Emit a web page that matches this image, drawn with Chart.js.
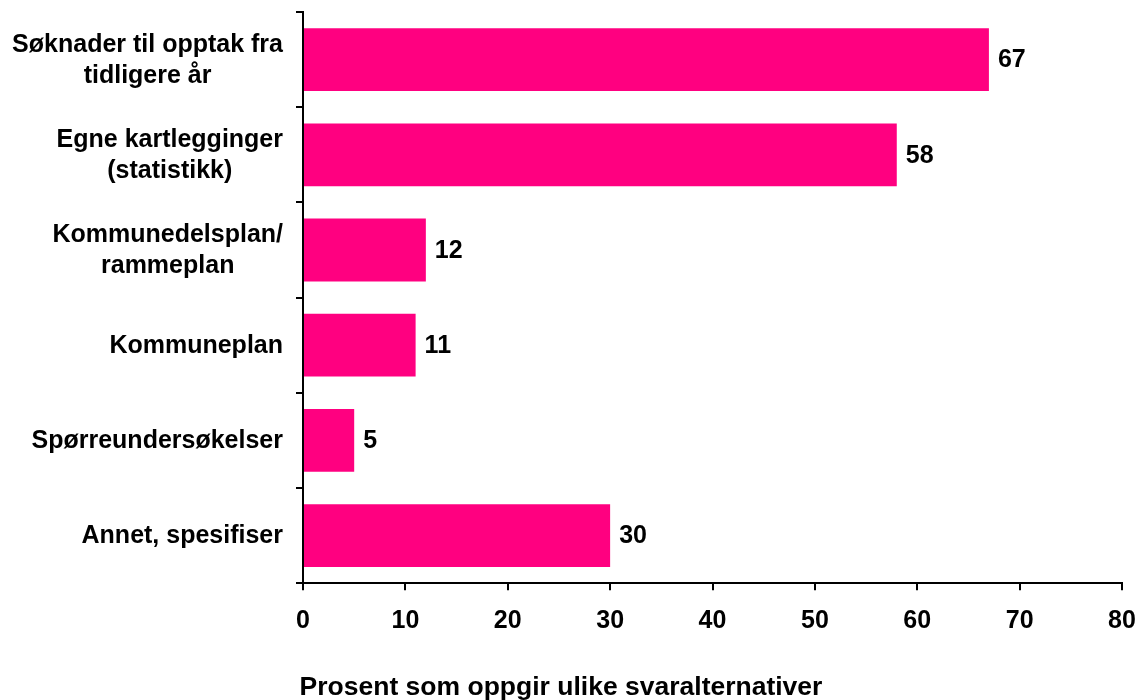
<!DOCTYPE html>
<html lang="no">
<head>
<meta charset="utf-8">
<title>Prosent som oppgir ulike svaralternativer</title>
<script src="https://cdn.jsdelivr.net/npm/chart.js@4.4.1/dist/chart.umd.min.js"></script>
<style>
  html, body { margin: 0; padding: 0; background: #fff; }
  #wrap { width: 1136px; height: 700px; }
</style>
</head>
<body>
<div id="wrap"><canvas id="grafikk" width="1136" height="700"></canvas></div>
<script>
// Kategorier (flere linjer der originalen bryter teksten)
const kategorier = [
  ['Søknader til opptak fra', 'tidligere år'],
  ['Egne kartlegginger', '(statistikk)'],
  ['Kommunedelsplan/', 'rammeplan'],
  ['Kommuneplan'],
  ['Spørreundersøkelser'],
  ['Annet, spesifiser']
];

// Prosentverdier
const verdier = [67, 58, 12, 11, 5, 30];

// Akseverdier
const xTicks = [0, 10, 20, 30, 40, 50, 60, 70, 80];

const aksetittel = 'Prosent som oppgir ulike svaralternativer';

const FONT = '"Liberation Sans", Arial, sans-serif';

// Tegner kategoritekstene: blokk høyrejustert, hver linje sentrert i blokken
const kategoriTekst = {
  id: 'kategoriTekst',
  afterDraw(chart) {
    const ctx = chart.ctx;
    const y = chart.scales.y;
    const hoyreKant = 283;
    const linjeHoyde = 31;
    ctx.save();
    ctx.font = 'bold 25px ' + FONT;
    ctx.fillStyle = '#000';
    ctx.textAlign = 'center';
    ctx.textBaseline = 'middle';
    kategorier.forEach((linjer, i) => {
      const midt = y.getPixelForValue(i) + 1;
      const bredde = Math.max(...linjer.map(l => ctx.measureText(l).width));
      const cx = hoyreKant - bredde / 2;
      const start = midt - (linjer.length - 1) * linjeHoyde / 2;
      linjer.forEach((l, j) => ctx.fillText(l, cx, start + j * linjeHoyde));
    });
    ctx.restore();
  }
};

// Verdietiketter til høyre for hver stolpe
const verdiTekst = {
  id: 'verdiTekst',
  afterDatasetsDraw(chart) {
    const ctx = chart.ctx;
    const meta = chart.getDatasetMeta(0);
    ctx.save();
    ctx.font = 'bold 25px ' + FONT;
    ctx.fillStyle = '#000';
    ctx.textAlign = 'left';
    ctx.textBaseline = 'middle';
    meta.data.forEach((bar, i) => {
      ctx.fillText(String(verdier[i]), bar.x + 9, bar.y + 1);
    });
    ctx.restore();
  }
};

const ctx = document.getElementById('grafikk').getContext('2d');

new Chart(ctx, {
  type: 'bar',
  data: {
    labels: kategorier.map(k => k.join(' ')),
    datasets: [{
      data: verdier,
      backgroundColor: '#FF0080',
      borderWidth: 0,
      barPercentage: 0.66,
      categoryPercentage: 1
    }]
  },
  options: {
    indexAxis: 'y',
    responsive: false,
    animation: false,
    layout: { padding: { top: 12, right: 14, left: 0, bottom: 0 } },
    scales: {
      x: {
        min: 0,
        max: 80,
        afterBuildTicks: (scale) => { scale.ticks = xTicks.map(v => ({ value: v })); },
        afterFit: (scale) => {
          scale.height = 52;
          scale.paddingLeft = 0;
          scale.paddingRight = 0;
        },
        border: { display: true, color: '#000', width: 2 },
        grid: { drawOnChartArea: false, drawTicks: true, tickLength: 7, color: '#000', lineWidth: 2 },
        ticks: {
          color: '#000',
          padding: 16,
          maxRotation: 0,
          font: { family: FONT, size: 25, weight: 'bold' }
        }
      },
      y: {
        afterFit: (scale) => { scale.width = 303; },
        border: { display: true, color: '#000', width: 2 },
        grid: { offset: true, drawOnChartArea: false, drawTicks: true, tickLength: 7, color: '#000', lineWidth: 2 },
        ticks: { display: false }
      }
    },
    plugins: {
      legend: { display: false },
      tooltip: { enabled: false },
      title: {
        display: true,
        position: 'bottom',
        text: aksetittel,
        color: '#000',
        padding: { top: 37, bottom: -4 },
        font: { family: FONT, size: 26.5, weight: 'bold', lineHeight: 1.2 }
      }
    }
  },
  plugins: [kategoriTekst, verdiTekst]
});
</script>
</body>
</html>
